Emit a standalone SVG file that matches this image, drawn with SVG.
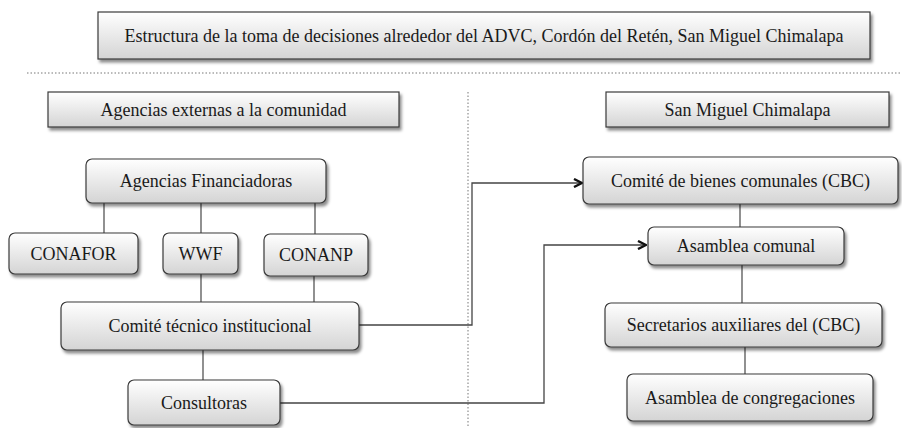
<svg xmlns="http://www.w3.org/2000/svg" width="902" height="428" viewBox="0 0 902 428">
<defs>
<linearGradient id="g" x1="0" y1="0" x2="0" y2="1">
<stop offset="0" stop-color="#ffffff"/>
<stop offset="1" stop-color="#d4d4d4"/>
</linearGradient>
<filter id="sh" x="-10%" y="-20%" width="120%" height="150%">
<feDropShadow dx="2" dy="3" stdDeviation="1.5" flood-color="#000" flood-opacity="0.45"/>
</filter>
<marker id="arr" viewBox="0 0 10 10" refX="9" refY="5" markerWidth="10" markerHeight="10" markerUnits="userSpaceOnUse" orient="auto">
<path d="M1,1 L9,5 L1,9" fill="none" stroke="#111" stroke-width="2.4" stroke-linejoin="miter"/>
</marker>
<style>
.box{fill:url(#g);stroke:#3a3a3a;stroke-width:1.2;filter:url(#sh)}
.t{font-family:"Liberation Serif","Times New Roman",serif;font-size:18px;fill:#1a1a1a;text-anchor:middle;dominant-baseline:central}
.ln{stroke:#555;stroke-width:1.3;fill:none}
.ar{stroke:#444;stroke-width:1.3;fill:none}
.dot{stroke:#777;stroke-width:1;stroke-dasharray:1.5 2;fill:none}
</style>
</defs>
<g id="separators">
<line class="dot" x1="27" y1="73" x2="902" y2="73"/>
<line class="dot" x1="468" y1="92" x2="468" y2="428"/>
</g>
<g id="connectors">
<line class="ln" x1="104" y1="203" x2="104" y2="233"/>
<line class="ln" x1="201" y1="203" x2="201" y2="233"/>
<line class="ln" x1="315" y1="203" x2="315" y2="234"/>
<line class="ln" x1="201" y1="274" x2="201" y2="302"/>
<line class="ln" x1="314" y1="276" x2="314" y2="302"/>
<line class="ln" x1="203" y1="350" x2="203" y2="380"/>
<line class="ln" x1="740" y1="204" x2="740" y2="227"/>
<line class="ln" x1="742" y1="265" x2="742" y2="303"/>
<line class="ln" x1="745" y1="347" x2="745" y2="374"/>
<polyline class="ar" points="359,325 472,325 472,183 582,183" marker-end="url(#arr)"/>
<polyline class="ar" points="280,403 544,403 544,245 646,245" marker-end="url(#arr)"/>
</g>
<g id="title">
<rect class="box" x="98" y="12" width="772" height="47"/>
<text class="t" x="484" y="35.5">Estructura de la toma de decisiones alrededor del ADVC, Cordón del Retén, San Miguel Chimalapa</text>
</g>
<g id="agencias-externas">
<rect class="box" x="48" y="92" width="351" height="35"/>
<text class="t" x="223.5" y="109.5">Agencias externas a la comunidad</text>
</g>
<g id="san-miguel">
<rect class="box" x="606" y="92" width="283" height="35"/>
<text class="t" x="747.5" y="109.5">San Miguel Chimalapa</text>
</g>
<g id="agencias-financiadoras">
<rect class="box" x="86" y="159" width="240" height="44" rx="6"/>
<text class="t" x="206" y="181">Agencias Financiadoras</text>
</g>
<g id="conafor">
<rect class="box" x="9" y="233" width="129" height="41" rx="6"/>
<text class="t" x="73.5" y="253.5">CONAFOR</text>
</g>
<g id="wwf">
<rect class="box" x="163" y="233" width="75" height="41" rx="6"/>
<text class="t" x="200.5" y="253.5">WWF</text>
</g>
<g id="conanp">
<rect class="box" x="264" y="234" width="104" height="42" rx="6"/>
<text class="t" x="316" y="255">CONANP</text>
</g>
<g id="comite-tecnico">
<rect class="box" x="61" y="302" width="298" height="48" rx="6"/>
<text class="t" x="210" y="326">Comité técnico institucional</text>
</g>
<g id="consultoras">
<rect class="box" x="128" y="380" width="152" height="45" rx="6"/>
<text class="t" x="204" y="402.5">Consultoras</text>
</g>
<g id="cbc">
<rect class="box" x="583" y="157" width="315" height="47" rx="6"/>
<text class="t" x="740.5" y="180.5">Comité de bienes comunales (CBC)</text>
</g>
<g id="asamblea-comunal">
<rect class="box" x="648" y="227" width="196" height="38" rx="6"/>
<text class="t" x="746" y="246">Asamblea comunal</text>
</g>
<g id="secretarios">
<rect class="box" x="605" y="303" width="277" height="44" rx="6"/>
<text class="t" x="743.5" y="325">Secretarios auxiliares del (CBC)</text>
</g>
<g id="asamblea-congregaciones">
<rect class="box" x="627" y="374" width="246" height="47" rx="6"/>
<text class="t" x="750" y="397.5">Asamblea de congregaciones</text>
</g>
</svg>
